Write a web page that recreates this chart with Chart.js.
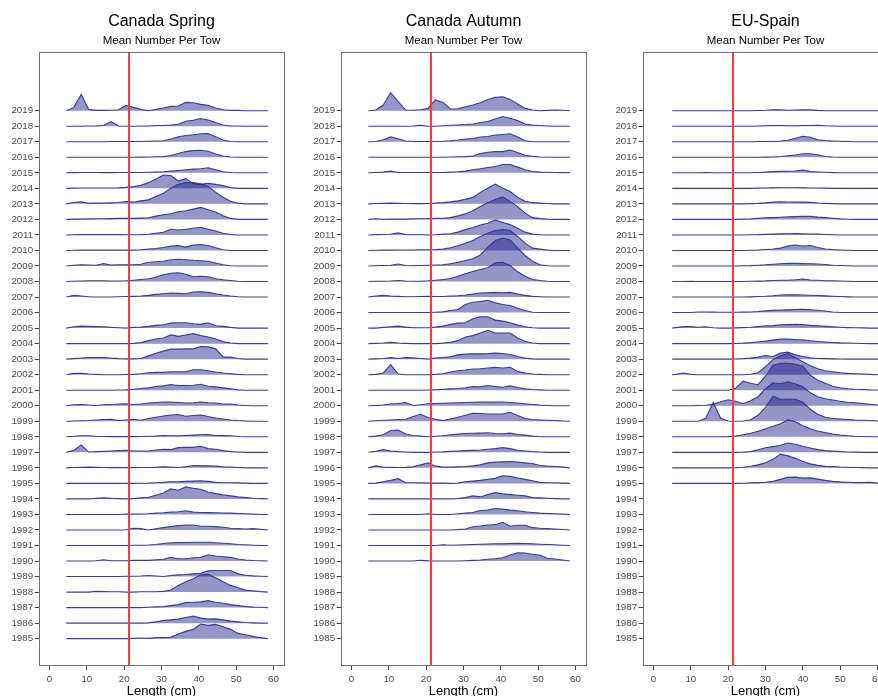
<!DOCTYPE html>
<html>
<head>
<meta charset="utf-8">
<script src="https://cdn.jsdelivr.net/npm/chart.js@4.4.1/dist/chart.umd.min.js"></script>
<style>
html,body{margin:0;padding:0;background:#fff;overflow:hidden;width:878px;height:696px;position:relative;}
.panel{position:absolute;top:0;width:300px;height:696px;}
canvas{display:block;}
</style>
</head>
<body>
<div class="panel" style="left:0px"><canvas id="c1" width="300" height="696"></canvas></div>
<div class="panel" style="left:301.6px"><canvas id="c2" width="300" height="696"></canvas></div>
<div class="panel" style="left:603.6px"><canvas id="c3" width="300" height="696"></canvas></div>
<script>
// ---------------- DATA ----------------
const panelTitles = ["Canada Spring", "Canada Autumn", "EU-Spain"];
const subtitleText = "Mean Number Per Tow";
const xAxisTitle = "Length (cm)";
const xTickValues = [0, 10, 20, 30, 40, 50, 60];
const yTickYears = [1985,1986,1987,1988,1989,1990,1991,1992,1993,1994,1995,1996,1997,1998,1999,2000,2001,2002,2003,2004,2005,2006,2007,2008,2009,2010,2011,2012,2013,2014,2015,2016,2017,2018,2019];
const referenceLength = 21.3;

// Length classes (cm)
const lengthsCanada = [4.5,6.5,8.5,10.5,12.5,14.5,16.5,18.5,20.5,22.5,24.5,26.5,28.5,30.5,32.5,34.5,36.5,38.5,40.5,42.5,44.5,46.5,48.5,50.5,52.5,54.5,56.5,58.5];
const lengthsSpain = [5,6,8,10,12,14,16,18,20,22,24,26,28,30,32,34,36,38,40,42,44,46,48,50,52,54,56,58,60,62];

// Canada Spring (no 2006 survey)
const springYears = [1985,1986,1987,1988,1989,1990,1991,1992,1993,1994,1995,1996,1997,1998,1999,2000,2001,2002,2003,2004,2005,2007,2008,2009,2010,2011,2012,2013,2014,2015,2016,2017,2018,2019];
const springValues = [
[0,0,0,0,0,0,0,0,0,0.3,0.7,0.3,1,1,1.3,4.7,7.3,9.3,14.7,13.3,14.3,12,9.3,5.3,4,2.3,1,0],
[0,0,0,0,0,0,0,0,0,0,0,0.3,1.3,2.7,3.3,4,5.7,7,5,4,4.3,3.3,2,1.3,0.7,0.3,0,0],
[0,0,0,0,0,0,0,0,0,0,0,0.3,0.7,1,2,3,5,5.3,5.7,7,5.3,4.3,3,2,1,0.5,0.3,0],
[0,0,0,0,0.7,0.5,0.3,0.3,0,0,0.3,0.3,0.3,0.7,2,6.7,10.3,13.3,17.3,17.7,14.3,10.3,6.7,4.3,2,1.3,0.5,0],
[0,0,0,0,0,0,0,0,0.3,0.3,0.5,1,0.5,0,1,1.7,2,2.7,3.3,5.7,6,6,6,2.7,1.3,0.7,0.3,0],
[0,0,0,0,0.3,1.3,0.3,0.3,0.3,0.7,0.7,0.7,1.3,1.7,3.7,2.3,2.3,3.3,3.7,6.3,5,4.3,3.7,2,1,0.5,0.3,0],
[0,0,0,0,0,0,0,0,0,0.2,0.3,0.5,1,2,2.7,3,3,3.2,3.3,3.3,2.7,2.3,1.7,1,0.7,0.3,0,0],
[0,0,0,0,0,0,0,0,0.2,1.7,1.3,0,1.3,2.3,3.3,4.3,5,5,3.7,3.7,3.3,2.7,1.7,1.3,1,1.3,0.7,0],
[0,0,0,0,0,0,0,0,0.3,0.3,0.5,0.7,1.3,1.7,2.3,2.7,3.7,2.3,2,1.8,1.7,1.5,1.3,1,0.7,0.3,0,0],
[0,0,0,0,0.5,1,0.5,0.3,0,0.3,1,1.7,3.7,6,10,8.7,12,10.7,9.7,7,5.3,4,3,2,1.3,0.7,0.3,0],
[0,0,0,0,0,0,0,0,0,0,0.2,0.3,0.7,1,1.7,1.7,2,2.3,2.7,2,1,0.7,0.7,0.5,0.3,0,0,0],
[0,0.3,0.5,0.7,0.5,0.3,0.2,0.2,0.2,0.2,0.3,0.3,0.5,1,0.7,0.3,1,2.3,2,2,1.7,1,0.7,0.3,0,0,0,0],
[0,2,7.3,0.3,0.7,1,1.3,1.7,2,1.3,1.3,1.3,2.3,3,2.7,4.7,5,5,6,3.7,3,1.7,0.7,0.3,0,0,0,0],
[0,0.5,1,1,0.5,0.3,0.2,0.2,0.2,0.2,0.3,0.5,0.7,1.3,1,1,1.3,1.7,2,2.3,1.3,1.2,1,0.3,0,0,0,0],
[0,0.3,0.5,0.7,1.3,1.7,2,0.7,1.3,2,1,2.7,4,5.3,6.3,6.7,5,5.7,6.3,4.7,3.3,2.3,1.3,0.7,0.3,0,0,0],
[0,1,1.3,0.7,0.3,1,1.3,1.7,2,1.3,1.7,2.7,3.3,3.7,3.7,3.3,2.7,3,3.7,3,2.7,1.7,1.7,0.7,0.3,0,0,0],
[0,0,0,0,0,0,0,0.2,0.3,1,1.7,2.3,3.7,4.3,5.7,4.7,4.7,5,6,4,3.3,2.3,1.3,0.3,0,0,0,0],
[0,1.3,1.3,0.7,0.3,0,0,0,0.2,0.3,1,2,2.3,2.3,3,3,3,5,5,4,2.7,1.7,1,0.3,0,0,0,0],
[0,0.5,1,1.7,1.7,1.7,1,0.5,0.3,0.3,0.7,3.3,6,8,10,10,10.3,10.3,12.7,12.3,10.3,2.3,2,0.7,0,0,0,0],
[0,0,0,0,0,0,0,0,0,0.3,1,3,4.7,5.7,8.7,7.3,8.7,10,8,6.7,4.7,2,0.7,0,0,0,0,0],
[0,1.3,2,1.7,1.5,1.3,0.7,0.3,0,0.7,1,1.7,2.7,3.3,5,5.3,5.3,4.3,3.7,5.3,2.3,1.7,0.7,0,0,0,0,0],
[0,1.7,1,0.3,0,0,0,0.3,0.5,0.7,1,1.7,2.7,3.3,4,3.7,3.3,5,5.3,4.7,3.3,2,1,0.3,0,0,0,0],
[0,0.3,0.5,0.7,0.8,0.7,0.5,0.5,0.7,1.3,2,2.7,4.3,6.7,8.3,8.7,7.3,4.7,5.3,4.7,2.7,1.7,1,0.3,0,0,0,0],
[0,0.7,1.3,1,0.7,2.3,1,1.2,1.3,1.3,1.7,3.7,4.3,4.7,6.3,6.7,6.3,5.7,5.3,4.7,3,1.3,0.3,0,0,0,0,0],
[0,0.2,0.3,0.3,0.3,0.3,0.3,0.3,0.3,0.3,0.7,1.3,2,3,4.3,5,3.3,5.3,6,5,2.7,0.7,0,0,0,0,0,0],
[0,0.2,0.3,0.3,0.3,0.3,0.3,0.3,0.2,0.2,0.3,0.7,1.7,2.7,5.7,5,5.7,6.7,7.7,5.7,4,1.7,0.3,0,0,0,0,0],
[0,0.3,0.3,0.5,0.7,0.7,0.8,1,1,1,1.3,1.7,3.3,4.7,5.7,7.7,8.7,10.3,12,9.7,7.3,3.7,1,0,0,0,0,0],
[0,1.3,2,0.5,0.7,0.7,1,1.3,2.3,1.7,3,4,7.3,10.7,15.7,19.7,21.3,21.3,20,17.3,11.7,6.7,2.7,0.7,0,0,0,0],
[0,0.2,0.3,0.3,0.3,0.3,0.3,0.5,1,1.7,3,5.7,9.3,13.3,12.7,7.3,9.7,4.7,4,5,4,2.7,0.7,0,0,0,0,0],
[0,0.2,0.3,0.3,0.3,0.2,0.2,0.3,0.3,0.3,0.3,0.5,0.7,1,1.7,2.3,3,3.7,4,5,3,1,0.3,0,0,0,0,0],
[0,0,0,0,0,0,0,0,0,0,0.2,0.3,0.5,0.7,1.7,3.7,5.7,6.7,7,6,3.3,1.3,0.3,0,0,0,0,0],
[0,0,0,0,0,0,0.2,0.2,0.2,0.3,0.3,0.5,0.7,1,2.7,5,6.3,7,8,8.3,5,1.7,0.3,0,0,0,0,0],
[0,0,0,0.2,0.3,1,4.7,0.3,0,0,0.3,0.3,0.7,0.7,1.2,2,5,6,7.7,6.3,3.7,1.3,0.3,0.2,0,0,0,0],
[0,3.3,16.3,1.3,0.3,0.3,0.5,1,5.3,3.3,1.3,0,1.3,2.7,4.3,4.7,8.3,8,6.3,5.3,2.7,1,0.3,0.3,0,0,0,0]
];

// Canada Autumn (1990 onwards, no 2014 survey)
const autumnYears = [1990,1991,1992,1993,1994,1995,1996,1997,1998,1999,2000,2001,2002,2003,2004,2005,2006,2007,2008,2009,2010,2011,2012,2013,2015,2016,2017,2018,2019];
const autumnValues = [
[0,0,0,0,0,0,0,0.7,0.2,0,0,0,0,0.3,0.7,1,1.7,2.3,3.3,6,8.3,8,6.7,5.7,2.7,2,1,0],
[0,0,0,0,0,0,0,0,0,0,0.7,0.3,0.5,0.7,1,1.3,1.5,1.7,1.8,2,2.3,2,1.7,1.3,1,0.7,0.3,0],
[0,0,0,0,0,0,0,0,0,0,0,0,0.3,1,3.3,4,5,5.3,7.7,3.7,4.7,4.7,2.3,1.7,1.3,1,0.5,0],
[0,0,0,0,0,0,0,0,0.7,0,0,0,0.7,1.3,2,4,4.3,6,5.3,4.3,3.7,2.7,2,1.3,1,0.7,0.3,0],
[0,0,0,0,0,0,0,0,0,0,0,0,0.3,1.3,3,2,4.3,6.3,5,4.3,3.7,3,1.3,1,0.7,0.3,0,0],
[0,0.3,1.7,3,4.7,0.7,0.7,0.5,0.3,0.3,0.3,0,0.3,1.7,2.3,3,4,5,7.7,7,5.3,4,2.7,1,0.7,0.7,0.3,0],
[0,2,0.7,0.5,0.3,0.5,1,3,5,1.7,0.7,0.7,1,1.3,2,3,5,5.7,6,6.3,5.7,5,4.3,2.3,1.7,1.3,0.7,0],
[0,1,2.7,1.3,0.7,0.3,0,0,0,0.3,0.5,1,1.3,1.7,2,2.3,3,3.7,4.7,3.7,2,1.3,0.7,0.3,0,0,0,0],
[0,0.7,2,6.3,6.7,2.7,1.3,0.7,0,0.5,1,2,2.7,3.3,3.5,3.7,4,3.3,3,3.7,2.3,1.7,0.7,0,0,0,0,0],
[0,0.5,1,1.3,1.7,2,4.7,7,3.7,2,0.7,2.3,4,6,8,7.7,7.3,7.3,7.3,9,5.7,2.7,1.7,1.3,1,0.7,0.3,0],
[0,0.3,0.7,1.7,2.3,3.3,0.3,1,2,2.3,2.5,2.7,3,3.3,3.5,3.7,3.7,3.7,3.7,3.3,2.7,2,1.3,0.7,0.3,0,0,0],
[0,0,0,0,0,0,0,0,0.2,0.5,0.8,1.3,1.7,2.3,3.7,3.3,4.7,3.7,3,4.3,2.7,1.3,0.7,0.3,0,0,0,0],
[0,0.3,1.7,10,0.7,0,0,0,0,0.3,1,2.7,4,4.7,5.7,6,6.7,7.3,6.7,7.3,3.3,1.7,0.7,0.3,0,0,0,0],
[0,0.3,0.7,1.5,0.7,1.5,1.3,0.7,0,1,1.7,2.3,4.3,5,5.3,5.3,5.5,6,5.7,4.7,2.7,1,0.3,0,0,0,0,0],
[0,0.3,0.7,1.3,0.7,0.3,0,0,0,0,0.5,1.3,3,6.7,8,10.7,13.3,10.7,10.7,10.7,5.7,2.3,0.7,0,0,0,0,0],
[0,0,0.7,1.3,2,1,0.3,0.3,0.3,1,2,3.7,5,5.3,9.3,11.3,11.3,8,7,5.3,3,1.3,0.3,0,0,0,0,0],
[0,0,0,0,0,0,0,0,0,0.3,0.7,2,3,8,10.3,11,12.3,9.7,8,7,4.3,2,0.3,0,0,0,0,0],
[0,1,1.7,1,0.7,0.3,0.3,0.5,0.7,0.5,0.5,1,1.3,2,3,4,4.3,4.7,4.3,4.7,3,1.7,0.7,0.3,0,0,0,0],
[0,0.2,0.3,0.5,1,0.5,0.3,0.3,0.7,1.3,2,3,5.3,7.7,10,12,13.7,18.7,19.3,16,9.7,5.3,2,1,0.3,0,0,0],
[0,0.3,0.5,0.7,2,0.5,0.3,0.5,0.7,1,1.3,2.3,3.7,5.5,7.3,11,18.5,25.5,28,26,18,10.5,4.8,1.2,0.3,0,0,0],
[0,0.2,0.3,0.3,0.5,0.5,0.5,0.7,0.7,0.8,1.3,2.7,4.7,7.3,10,14,17.3,20,21,20,14,7.3,2.3,1.3,0.3,0,0,0],
[0,0.3,0.5,0.7,2,0.3,0.2,0.2,0,0.2,0.8,1.2,2.8,5.3,7.5,10,11.7,15,12.5,10.3,6.7,2.8,0.8,0.2,0,0,0,0],
[0,0.7,0,0.3,0.3,0.3,0.5,0.7,0.7,1,1.2,1.8,3.5,5.5,8.7,13,16.7,20,22.5,18,12.8,6.3,1.8,0.8,0.3,0,0,0],
[0,0.3,0.5,0.7,0.5,0.3,0.2,0.2,0.3,0.7,1.2,2,3,4.5,6.5,11.5,15.7,19.8,15.7,12.3,6.7,2.7,1.2,0.7,0.3,0,0,0],
[0,0.3,0.7,1.7,0.3,0.3,0.3,0.3,0.3,0.3,0.3,0.7,1,1.7,3,4,5.3,6.3,8.3,8.3,5.7,3,1.3,0.7,0.5,0.3,0.2,0],
[0,0,0,0,0,0,0,0,0,0,0,0.3,0.5,0.7,1.3,3.7,5,5.7,5.7,7.3,4.7,2,1,0.3,0,0,0,0],
[0,0.3,2,5,3,0.7,0.3,0.3,0.3,0.3,0.5,1,1.7,2.7,3.3,4.7,5.3,6.7,7.3,8,4.7,1,0,0,0,0,0,0],
[0,0,0,0,0,0,0.3,1,0,0,0.5,1,1.3,1.7,2.3,3.7,4.7,7.3,9.7,8,5.7,2.3,1.3,0.7,0.3,0,0,0],
[0,0.7,5.7,18,9,0.7,0.5,1,2.3,10.7,8.3,1.7,2,4,5.7,8,11.3,13.3,14,11.3,6.7,2.3,0.7,0,0.3,0.7,0.5,0]
];

// EU-Spain (1995 onwards)
const spainYears = [1995,1996,1997,1998,1999,2000,2001,2002,2003,2004,2005,2006,2007,2008,2009,2010,2011,2012,2013,2014,2015,2016,2017,2018,2019];
const spainValues = [
[0,0,0,0,0,0,0,0,0,0,0.2,0.5,0.8,1.2,2,4,6,6.3,5.3,5.5,4.3,3,2,1.5,1.2,0.8,0.8,1,0.3,0],
[0,0,0,0,0,0,0,0,0,0.2,0.6,1.6,3,5,8.5,13.7,12,9.5,6.3,4,2.5,1.5,1.2,0.8,0.6,0.4,0.2,0,0,0],
[0,0,0,0,0,0,0,0,0,0,0.2,0.7,2.5,4.5,5.7,7,9.3,8,6,4.3,2.7,1.7,1.2,0.7,0.4,0.2,0,0,0,0],
[0,0,0,0,0,0,0,0,0.2,0.7,2,3.5,5.5,8,10.5,13,17,15,11,8,5.8,4.2,2.8,1.8,1,0.5,0.3,0,0,0],
[0,0,0,0,0,3,18.7,3,0.3,0,0.3,1.5,6,14,25,22,22,22,19,12,7,4,2.7,2.2,1.8,1.3,1,0.7,0.3,0],
[0,0,0,0,0.3,0.5,1.5,4,6,4.5,2,5,9,17,23,22,24,22,19,13,9,7,5.7,4.5,3.5,3,2.3,1.5,0.7,0.3],
[0,0,0,0,0,0,0,0,0,2,9,7,5.5,14,25,27,27,26,24,15,10,7,4,2.5,1.5,1,0.7,0.3,0.2,0],
[0,0.3,1.7,0.3,0,0,0,0,0,0,0,0.5,2,8,15,19,21,17,13,9,6,4,3,2,1.3,1,0.7,0.3,0,0],
[0,0,0,0,0,0,0,0,0,0.2,0.5,1,2,3.7,2.7,6,7,4.3,2.7,1.3,0.7,0.5,0.3,0.2,0,0,0,0,0,0],
[0,0,0,0,0,0,0,0,0,0.2,0.5,1,1.7,2.5,3.5,4.5,4.5,4,3.8,2.8,2.2,1.7,1.2,0.8,0.6,0.4,0.2,0,0,0],
[0,0.5,1.5,1.5,0.8,1.3,0.3,0,0,0.2,0.5,0.8,1.5,2.2,2.5,3.2,3.5,3.7,3.5,2.7,2.2,1.7,1.2,0.8,0.5,0.3,0.2,0,0,0],
[0,0,0,0,0.5,0.6,0.4,0.3,0.3,0.3,0.4,0.6,1,1.7,2.2,2.5,2.7,3,3.3,2.8,2.3,1.5,0.5,0,0,0,0,0,0,0],
[0,0,0,0,0,0,0,0,0,0,0,0.2,0.5,0.8,1.3,2,2.3,2.2,2,1.8,1.5,1.2,0.8,0.5,0.2,0,0,0,0,0],
[0,0,0,0.3,0,0,0,0,0,0,0,0.2,0.4,0.6,1,1.3,1.3,1.8,2.5,1.5,1.2,0.8,0.7,0.5,0.2,0,0,0,0,0],
[0,0,0,0,0,0,0,0,0,0,0.2,0.4,0.8,1.2,1.8,2.2,2.6,2.6,2.4,2.2,2,1.5,0.8,0.5,0.2,0,0,0,0,0],
[0,0,0,0,0,0,0,0,0,0,0,0.2,0.5,1,1.5,2.3,4.3,5.5,4.5,5,3,1.5,0.8,0.5,0.2,0,0,0,0,0],
[0,0,0,0,0,0,0,0,0,0,0,0.2,0.3,0.6,0.8,1.1,1.2,1.3,1.2,1,0.8,0.5,0.2,0,0,0,0,0,0,0],
[0,0,0,0,0,0,0,0,0,0,0.3,0.5,1,1.5,1.8,2.2,2.5,2.8,3.2,3,2.3,1.8,1.2,0.5,0.2,0,0,0,0,0],
[0,0,0,0,0,0,0,0,0,0,0,0.2,0.5,1,1.7,2,1.8,1.7,1.7,1.5,0.8,0.5,0.2,0,0,0,0,0,0,0],
[0,0,0,0,0,0,0,0,0,0,0,0,0.2,0.4,0.5,0.6,0.6,0.6,0.5,0.4,0.3,0.2,0,0,0,0,0,0,0,0],
[0,0,0,0,0,0.2,0,0,0,0,0,0,0.3,0.7,1.2,1.4,1.6,1.8,2.7,1.2,0.8,0.5,0.2,0,0,0,0,0,0,0],
[0,0,0,0,0,0,0,0,0,0,0,0,0,0.2,0.3,0.8,1.5,2.3,3.5,3.5,2.5,0.8,0.3,0,0,0,0,0,0,0],
[0,0,0,0,0,0,0,0,0,0,0,0,0.2,0.3,0.3,0.7,1.5,3.5,5.5,4.5,2,1.2,0.8,0.5,0.2,0,0,0,0,0],
[0,0,0,0,0,0,0,0,0,0,0,0,0.3,0.5,0.8,0.7,0.5,0.5,0.7,0.8,1,0.5,0.2,0,0,0,0,0,0,0],
[0,0,0,0,0,0,0,0,0,0,0,0,0.2,0.5,1,0.8,0.5,0.7,1,0.8,0.3,0,0,0,0,0,0,0,0,0]
];

// ---------------- STYLE / LAYOUT ----------------
const VALUE_PER_ROW = 15.53;   // ridge height units that equal one year spacing
const FONT = '"Liberation Sans", Arial, Helvetica, sans-serif';
const FILL = 'rgba(20,20,130,0.45)';
const LINE = 'rgba(50,50,155,0.95)';
const RED = '#ff3a3a';
const X_MIN = -2.9, X_MAX = 62.9;
const Y_MIN = 1983.24, Y_MAX = 2022.78;

const decorPlugin = {
  id: 'decor',
  afterDatasetsDraw(chart, args, opts) {
    const {ctx, chartArea: a, scales: {x}} = chart;
    const px = x.getPixelForValue(referenceLength);
    ctx.save();
    ctx.strokeStyle = RED;
    ctx.lineWidth = 2;
    ctx.beginPath();
    ctx.moveTo(px, a.top);
    ctx.lineTo(px, a.bottom);
    ctx.stroke();
    ctx.restore();
  },
  afterDraw(chart, args, opts) {
    const {ctx, chartArea: a} = chart;
    ctx.save();
    ctx.strokeStyle = '#707070';
    ctx.lineWidth = 1;
    ctx.strokeRect(Math.round(a.left) + 0.5, Math.round(a.top) + 0.5, Math.round(a.right - a.left) - 1, Math.round(a.bottom - a.top) - 1);
    const cx = (a.left + a.right) / 2;
    ctx.fillStyle = '#000';
    ctx.textAlign = 'center';
    ctx.textBaseline = 'alphabetic';
    ctx.font = '16px ' + FONT;
    ctx.fillText(opts.title, cx, 25.7);
    ctx.font = '11.5px ' + FONT;
    ctx.fillText(subtitleText, cx, 43.5);
    ctx.font = '13px ' + FONT;
    ctx.fillText(xAxisTitle, cx, 694.5);
    ctx.restore();
  }
};

function makePanel(canvasId, title, lengths, years, values) {
  const datasets = years.map((yr, i) => ({
    label: String(yr),
    data: lengths.map((len, j) => ({x: len, y: yr + values[i][j] / VALUE_PER_ROW})),
    fill: {value: yr},
    backgroundColor: FILL,
    borderColor: LINE,
    borderWidth: 1.1,
    pointRadius: 0,
    tension: 0
  }));
  return new Chart(document.getElementById(canvasId), {
    type: 'line',
    data: {datasets},
    options: {
      responsive: false,
      animation: false,
      events: [],
      layout: {padding: {left: 0, right: 15.7, top: 52, bottom: 0}},
      plugins: {
        legend: {display: false},
        tooltip: {enabled: false},
        decor: {title}
      },
      scales: {
        x: {
          type: 'linear', min: X_MIN, max: X_MAX,
          afterBuildTicks: s => { s.ticks = xTickValues.map(v => ({value: v})); },
          afterFit: s => { s.height = 30; },
          ticks: {color: '#4d4d4d', font: {size: 9.8, family: FONT}, padding: 3, maxRotation: 0, autoSkip: false, callback: v => String(v)},
          grid: {drawOnChartArea: false, drawTicks: true, tickLength: 4, color: '#444'},
          border: {display: false}
        },
        y: {
          type: 'linear', min: Y_MIN, max: Y_MAX,
          afterBuildTicks: s => { s.ticks = yTickYears.map(v => ({value: v})); },
          afterFit: s => { s.width = 38.7; },
          ticks: {color: '#4d4d4d', font: {size: 9.8, family: FONT}, padding: 1.5, autoSkip: false, callback: v => String(v)},
          grid: {drawOnChartArea: false, drawTicks: true, tickLength: 4, color: '#444'},
          border: {display: false}
        }
      }
    },
    plugins: [decorPlugin]
  });
}

makePanel('c1', panelTitles[0], lengthsCanada, springYears, springValues);
makePanel('c2', panelTitles[1], lengthsCanada, autumnYears, autumnValues);
makePanel('c3', panelTitles[2], lengthsSpain, spainYears, spainValues);
</script>
</body>
</html>
